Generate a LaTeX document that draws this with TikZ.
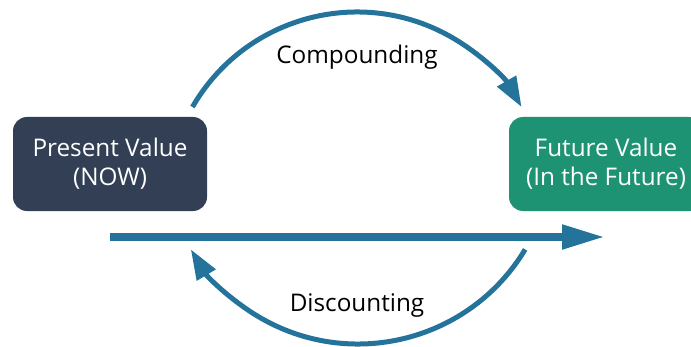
\documentclass[tikz,border=0pt]{standalone}
\usepackage{fontspec}
\setmainfont{Open Sans}
\usetikzlibrary{arrows.meta,calc}
\definecolor{pvcol}{HTML}{323F55}
\definecolor{fvcol}{HTML}{1E9373}
\definecolor{arrcol}{HTML}{24739B}
\begin{document}
\begin{tikzpicture}[x=1pt,y=1pt,
  valbox/.style={rounded corners=14pt, minimum width=194pt, minimum height=94pt,
    text=white, align=center, font=\fontsize{24.3}{29}\selectfont, inner sep=0pt},
  arclab/.style={font=\fontsize{24.3}{28}\selectfont, text=black},
  arcarrow/.style={draw=arrcol, line width=5pt, -{Triangle[length=30pt,width=21pt]}},
  mainarrow/.style={draw=arrcol, line width=8pt, -{Triangle[length=43pt,width=23pt]}}]
\useasboundingbox (0,0) rectangle (691,346);
\node[valbox, fill=pvcol] (pv) at (110,182) {Present Value\\(NOW)};
\node[valbox, fill=fvcol] (fv) at (606,182) {Future Value\\(In the Future)};
\coordinate (ts) at ($(357,144)+(150:190)$);
\coordinate (bs) at ($(358,197)+(-31:195)$);
\coordinate (hs) at (110,109);
\coordinate (he) at (605,109);
\draw[arcarrow] (ts) arc[start angle=150, end angle=30, radius=190];
\draw[arcarrow] (bs) arc[start angle=-31, end angle=-149, radius=195];
\draw[mainarrow] (hs) -- (he);
\node[arclab] (comp) at (357,289) {Compounding};
\node[arclab] (disc) at (357,40) {Discounting};
\end{tikzpicture}
\end{document}
